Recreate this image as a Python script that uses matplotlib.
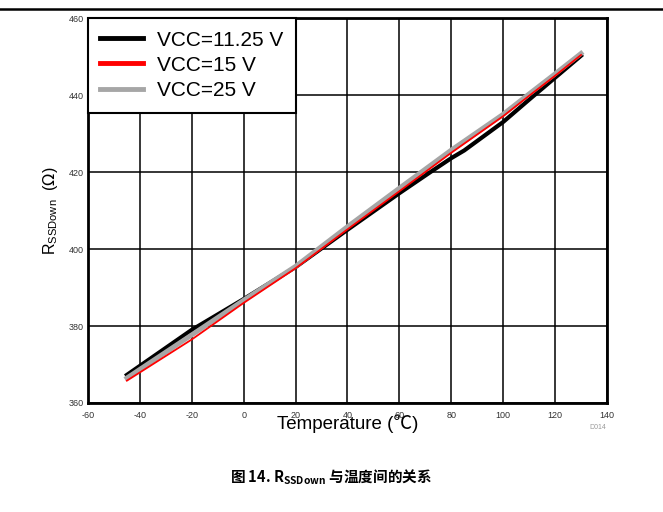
import matplotlib
matplotlib.use('Agg')
import matplotlib.pyplot as plt
from matplotlib.lines import Line2D

plt.rcParams['font.family'] = ['Liberation Sans', 'Noto Sans CJK SC', 'DejaVu Sans']
plt.rcParams['axes.unicode_minus'] = False

# readings (temperature in degC, resistance in ohm)
temp_1125 = [-45, -20, 0, 20, 40, 60, 72, 80, 85, 100, 110, 120, 130]
r_1125 = [367.3, 379.0, 387.0, 395.3, 405.0, 414.5, 420.0, 423.6, 425.6, 433.0, 438.8, 444.5, 450.2]

temp_15 = [-45, -20, 0, 20, 40, 60, 80, 100, 110, 120, 130]
r_15 = [365.8, 376.5, 386.0, 395.0, 405.1, 415.0, 425.0, 434.5, 439.8, 445.0, 450.4]

temp_25 = [-45, -20, 0, 20, 40, 60, 80, 100, 110, 120, 130]
r_25 = [366.5, 377.7, 386.7, 395.5, 405.8, 415.8, 425.7, 435.0, 440.3, 445.5, 450.8]

x_ticks = [-60, -40, -20, 0, 20, 40, 60, 80, 100, 120, 140]
y_ticks = [360, 380, 400, 420, 440, 460]

fig = plt.figure(figsize=(6.63, 5.12), dpi=100)
ax = fig.add_axes([0.1327, 0.2129, 0.7828, 0.7519])

ax.plot(temp_1125, r_1125, color='black', lw=3.0, label='VCC=11.25 V', zorder=3)
ax.plot(temp_25, r_25, color='#a6a6a6', lw=3.5, label='VCC=25 V', zorder=4)
ax.plot(temp_15, r_15, color='red', lw=1.3, label='VCC=15 V', zorder=5)

ax.set_xlim(-60, 140)
ax.set_ylim(360, 460)
ax.set_xticks(x_ticks)
ax.set_yticks(y_ticks)
ax.tick_params(length=0, labelsize=6.5, colors='#333333')
ax.tick_params(axis='x', pad=6)
ax.tick_params(axis='y', pad=3)
ax.grid(True, color='black', lw=1.1)
ax.set_axisbelow(True)
for s in ax.spines.values():
    s.set_linewidth(2)
    s.set_color('black')

ax.set_xlabel('Temperature (℃)', fontsize=13.5, labelpad=-4)
ax.set_ylabel(r'R$_{\mathregular{SSDown}}$  ($\Omega$)', fontsize=11.5, labelpad=6)

# legend order as in the reference
h, l = ax.get_legend_handles_labels()
order = [0, 2, 1]
leg = ax.legend([Line2D([], [], color=h[i].get_color(), lw=3.5) for i in order],
                [l[i] for i in order],
                loc='upper left', bbox_to_anchor=(0, 1), borderaxespad=0,
                fontsize=15, fancybox=False, framealpha=1, edgecolor='black',
                handlelength=2.05, handletextpad=0.67, labelspacing=0.3,
                borderpad=0.6)
leg.get_frame().set_linewidth(1.5)
leg.set_zorder(10)

fig.text(0.902, 0.163, 'D014', fontsize=5, color='#999999', ha='center')

# top rule and caption
fig.add_artist(Line2D([0, 1], [0.982, 0.982], color='black', lw=1.8))
fig.text(0.5, 0.058, r'图 14. R$_{\mathregular{SSDown}}$ 与温度间的关系',
         fontsize=10.5, fontweight='bold', ha='center',
         family=['Noto Sans CJK SC', 'DejaVu Sans'])

fig.savefig('out.png', dpi=100)
